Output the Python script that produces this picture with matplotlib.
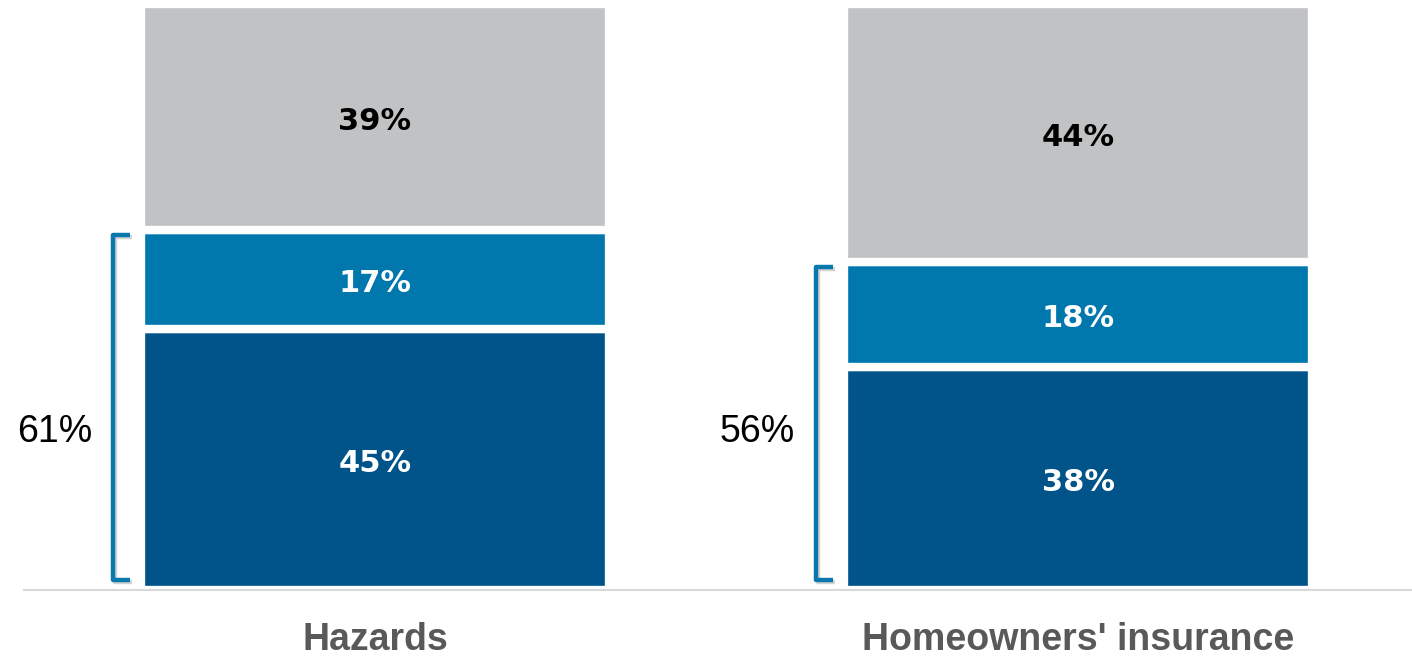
import matplotlib
matplotlib.use("Agg")
import matplotlib.pyplot as plt
import matplotlib.patheffects as pe
import matplotlib.transforms as mtrans
import numpy as np

categories = ["Hazards", "Homeowners' insurance"]
dark_vals = [45, 38]
mid_vals = [17, 18]
gray_vals = [39, 44]
bracket_totals = [61, 56]

c_dark = "#00548A"
c_mid = "#0078AE"
c_gray = "#C1C2C4"

W, H = 1412, 659
fig = plt.figure(figsize=(W / 100, H / 100), dpi=100)
base_px = 590
top_px = 4
ax = fig.add_axes([0, (H - base_px) / H, 1, (base_px - top_px) / H])

x = np.arange(len(categories))
px_per_unit = 703.0
xl = -375 / px_per_unit
xr = 1 + (W - 1078) / px_per_unit
ax.set_xlim(xl, xr)
ax.set_ylim(0, 100)

dark = np.array(dark_vals, float)
mid = np.array(mid_vals, float)
gray = np.array(gray_vals, float)
tot = dark + mid + gray
dn, mn, gn = dark / tot * 100, mid / tot * 100, gray / tot * 100

width = 468 / px_per_unit
lw = 6.0
ax.bar(x, dn, width, color=c_dark, edgecolor="white", linewidth=lw)
ax.bar(x, mn, width, bottom=dn, color=c_mid, edgecolor="white", linewidth=lw)
ax.bar(x, gn, width, bottom=dn + mn, color=c_gray, edgecolor="white", linewidth=lw)

shift = mtrans.offset_copy(ax.transData, fig=fig, x=0, y=-3, units="points")
lab_font = dict(fontsize=22, fontweight="bold", ha="center", va="center",
                family=["DejaVu Sans"], transform=shift)
for i in range(len(x)):
    ax.text(x[i], dn[i] / 2, f"{dark_vals[i]}%", color="white", **lab_font)
    ax.text(x[i], dn[i] + mn[i] / 2, f"{mid_vals[i]}%", color="white", **lab_font)
    ax.text(x[i], dn[i] + mn[i] + gn[i] / 2, f"{gray_vals[i]}%", color="black", **lab_font)

# brackets
off = 32 / px_per_unit
hook = 17 / px_per_unit
for i in range(len(x)):
    bx = x[i] - width / 2 + 4 / px_per_unit - off
    ytop = dn[i] + mn[i] - 0.8
    ybot = 1.7
    ax.plot([bx + hook, bx, bx, bx + hook], [ytop, ytop, ybot, ybot],
            color="#0A77AE", lw=3.2, solid_joinstyle="round", solid_capstyle="butt",
            path_effects=[pe.SimpleLineShadow(offset=(1.5, -1.5), shadow_color="gray", alpha=0.35),
                          pe.Normal()])
    ax.text(bx - 21 / px_per_unit, 27, f"{bracket_totals[i]}%", ha="right", va="center",
            fontsize=27, color="black", family=["Liberation Sans", "DejaVu Sans"])

for s in ["top", "right", "left"]:
    ax.spines[s].set_visible(False)
ax.spines["bottom"].set_color("#D9D9D9")
ax.spines["bottom"].set_linewidth(1.5)
ax.spines["bottom"].set_bounds(xl + 24 / px_per_unit, xr)
ax.set_yticks([])
ax.set_xticks(x)
ax.set_xticklabels(categories, fontsize=27, fontweight="bold", color="#595959",
                   family=["Liberation Sans Narrow", "Liberation Sans", "DejaVu Sans"])
ax.tick_params(axis="x", length=0, pad=23)

fig.savefig("out.png", dpi=100)
